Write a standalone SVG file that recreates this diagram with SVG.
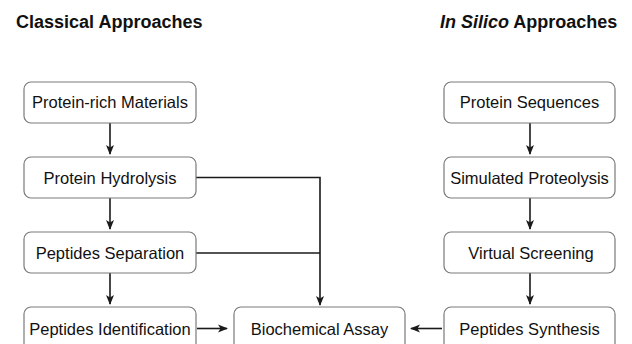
<svg xmlns="http://www.w3.org/2000/svg" width="632" height="344" viewBox="0 0 632 344">
<style>
.box{fill:#ffffff;stroke:#7a7a7a;stroke-width:1.2}
.lbl{font-family:"Liberation Sans",Arial,sans-serif;font-size:16.5px;fill:#111;text-anchor:middle}
.title{font-family:"Liberation Sans",Arial,sans-serif;font-size:18px;font-weight:bold;fill:#111}
.edge{fill:none;stroke:#1a1a1a;stroke-width:1.6}
</style>
<defs>
<marker id="arr" viewBox="0 0 10 10" refX="9" refY="5" markerWidth="10" markerHeight="10" markerUnits="userSpaceOnUse" orient="auto">
<path d="M0,1 L10,5 L0,9 L2.5,5 Z" fill="#1a1a1a"/>
</marker>
</defs>
<rect width="632" height="344" fill="#ffffff"/>
<g id="titles">
<text class="title" x="16" y="28">Classical Approaches</text>
<text class="title" x="440" y="28"><tspan font-style="italic">In Silico</tspan> Approaches</text>
</g>
<g id="connectors">
<path class="edge" d="M110,123 L110,154" marker-end="url(#arr)"/>
<path class="edge" d="M110,198 L110,229" marker-end="url(#arr)"/>
<path class="edge" d="M110,273 L110,304" marker-end="url(#arr)"/>
<path class="edge" d="M530,123 L530,154" marker-end="url(#arr)"/>
<path class="edge" d="M530,198 L530,229" marker-end="url(#arr)"/>
<path class="edge" d="M530,273 L530,304" marker-end="url(#arr)"/>
<path class="edge" d="M196,177.5 L320,177.5 L320,305" marker-end="url(#arr)"/>
<path class="edge" d="M196,253 L320,253"/>
<path class="edge" d="M197,328.5 L227,328.5" marker-end="url(#arr)"/>
<path class="edge" d="M442,328.5 L411,328.5" marker-end="url(#arr)"/>
</g>
<g id="n1"><rect class="box" x="24" y="82" width="172" height="41" rx="7"/><text class="lbl" x="110" y="108.3">Protein-rich Materials</text></g>
<g id="n2"><rect class="box" x="24" y="157" width="172" height="41" rx="7"/><text class="lbl" x="110" y="183.5">Protein Hydrolysis</text></g>
<g id="n3"><rect class="box" x="24" y="232" width="172" height="41" rx="7"/><text class="lbl" x="110" y="258.5">Peptides Separation</text></g>
<g id="n4"><rect class="box" x="24" y="307" width="172" height="44" rx="7"/><text class="lbl" x="110" y="334.5">Peptides Identification</text></g>
<g id="n5"><rect class="box" x="234" y="307" width="171" height="44" rx="7"/><text class="lbl" x="319.5" y="334.5">Biochemical Assay</text></g>
<g id="n6"><rect class="box" x="444" y="82" width="171" height="41" rx="7"/><text class="lbl" x="529.5" y="108.3">Protein Sequences</text></g>
<g id="n7"><rect class="box" x="444" y="157" width="171" height="41" rx="7"/><text class="lbl" x="529.5" y="183.5">Simulated Proteolysis</text></g>
<g id="n8"><rect class="box" x="444" y="232" width="171" height="41" rx="7"/><text class="lbl" x="531" y="258.5">Virtual Screening</text></g>
<g id="n9"><rect class="box" x="444" y="307" width="171" height="44" rx="7"/><text class="lbl" x="529.5" y="334.5">Peptides Synthesis</text></g>
</svg>
